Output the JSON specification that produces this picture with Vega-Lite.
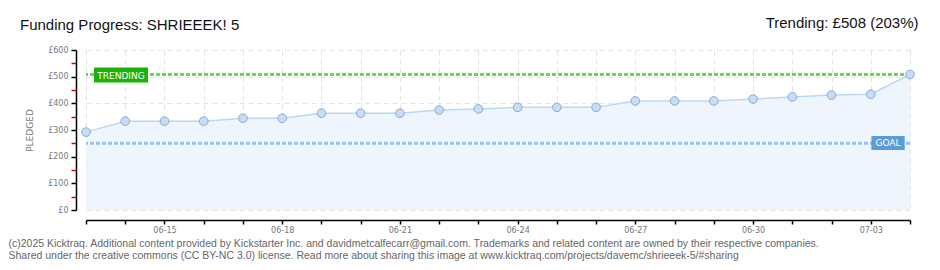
{
  "$schema": "https://vega.github.io/schema/vega-lite/v6.json",
  "width": 824,
  "height": 160,
  "autosize": "none",
  "padding": {"left": 86, "top": 50, "right": 30, "bottom": 60},
  "background": "white",
  "config": {"view": {"stroke": null}, "font": "DejaVu Sans", "axis": {"labelOverlap": false}},
  "title": {
    "text": "Funding Progress: SHRIEEEK! 5",
    "anchor": "start",
    "frame": "group",
    "dx": -66,
    "dy": 47,
    "offset": 18,
    "font": "Liberation Sans",
    "fontSize": 15,
    "fontWeight": "normal",
    "color": "#111",
    "baseline": "alphabetic"
  },
  "datasets": {
    "pledges": [
      {"date": "2025-06-13", "pledged": 292},
      {"date": "2025-06-14", "pledged": 333},
      {"date": "2025-06-15", "pledged": 333},
      {"date": "2025-06-16", "pledged": 333},
      {"date": "2025-06-17", "pledged": 344},
      {"date": "2025-06-18", "pledged": 344},
      {"date": "2025-06-19", "pledged": 363},
      {"date": "2025-06-20", "pledged": 363},
      {"date": "2025-06-21", "pledged": 363},
      {"date": "2025-06-22", "pledged": 375},
      {"date": "2025-06-23", "pledged": 379},
      {"date": "2025-06-24", "pledged": 385},
      {"date": "2025-06-25", "pledged": 385},
      {"date": "2025-06-26", "pledged": 385},
      {"date": "2025-06-27", "pledged": 409},
      {"date": "2025-06-28", "pledged": 409},
      {"date": "2025-06-29", "pledged": 409},
      {"date": "2025-06-30", "pledged": 416},
      {"date": "2025-07-01", "pledged": 424},
      {"date": "2025-07-02", "pledged": 431},
      {"date": "2025-07-03", "pledged": 434},
      {"date": "2025-07-04", "pledged": 508}
    ],
    "one": [{"goal": 250, "trending": 508, "top": 600}]
  },
  "layer": [
    {
      "data": {"name": "pledges"},
      "mark": {"type": "area", "color": "#eef5fd", "opacity": 1},
      "encoding": {
        "x": {
          "field": "date",
          "type": "temporal",
          "scale": {"type": "utc", "domain": [{"year": 2025, "month": 6, "date": 13, "utc": true}, {"year": 2025, "month": 7, "date": 4, "utc": true}]},
          "axis": {
            "tickCount": {"interval": "day", "step": 1},
            "labelExpr": "utcdate(datum.value) % 3 === 0 ? utcFormat(datum.value, '%m-%d') : ''",
            "labelOverlap": false,
            "labelFont": "DejaVu Sans",
            "labelFontSize": 8,
            "labelColor": "#777",
            "labelPadding": 2,
            "offset": 10,
            "domainColor": "#000",
            "domainWidth": 1.5,
            "tickColor": "#000",
            "tickSize": 4,
            "tickWidth": 1.5,
            "grid": true,
            "gridColor": "#e3e3e3",
            "gridDash": [5, 4],
            "title": ["(c)2025 Kicktraq. Additional content provided by Kickstarter Inc. and davidmetcalfecarr@gmail.com. Trademarks and related content are owned by their respective companies.", "Shared under the creative commons (CC BY-NC 3.0) license. Read more about sharing this image at www.kicktraq.com/projects/davemc/shrieeek-5/#sharing"],
            "titleX": -78,
            "titleY": 26,
            "titleAlign": "left",
            "titleBaseline": "alphabetic",
            "titleFont": "Liberation Sans",
            "titleFontSize": 10.5,
            "titleFontWeight": "normal",
            "titleColor": "#666",
            "titleLineHeight": 12.5
          }
        },
        "y": {
          "field": "pledged",
          "type": "quantitative",
          "scale": {"domain": [0, 600], "nice": false, "zero": true},
          "axis": {
            "values": [0, 50, 100, 150, 200, 250, 300, 350, 400, 450, 500, 550, 600],
            "tickCount": 30,
            "labelExpr": "datum.value % 100 === 0 ? '£' + datum.value : ''",
            "labelOverlap": false,
            "labelFont": "DejaVu Sans",
            "labelFontSize": 8,
            "labelColor": "#777",
            "labelPadding": 3,
            "offset": 10,
            "domainColor": "#000",
            "domainWidth": 1.5,
            "tickColor": {"condition": {"test": "datum.value % 100 !== 0", "value": "#e00000"}, "value": "#000"},
            "tickSize": 5,
            "tickWidth": 1.5,
            "grid": true,
            "gridColor": "#e3e3e3",
            "gridDash": [5, 4],
            "gridOpacity": {"condition": {"test": "datum.value % 100 !== 0", "value": 0}, "value": 1},
            "title": "PLEDGED",
            "titleFont": "DejaVu Sans",
            "titleFontSize": 9,
            "titleFontWeight": "normal",
            "titleColor": "#777",
            "titleX": -42,
            "titleY": 80,
            "titleAlign": "center"
          }
        }
      }
    },
    {
      "data": {"name": "pledges"},
      "mark": {"type": "line", "color": "#bcd7f3", "strokeWidth": 1.5},
      "encoding": {
        "x": {"field": "date", "type": "temporal"},
        "y": {"field": "pledged", "type": "quantitative"}
      }
    },
    {
      "data": {"name": "one"},
      "mark": {"type": "rule", "color": "#9cc3ee", "strokeWidth": 3, "strokeDash": [4, 2]},
      "encoding": {"y": {"field": "goal", "type": "quantitative"}}
    },
    {
      "data": {"name": "one"},
      "mark": {"type": "rule", "color": "#6fd35a", "strokeWidth": 3, "strokeDash": [4, 2]},
      "encoding": {"y": {"field": "trending", "type": "quantitative"}}
    },
    {
      "data": {"name": "pledges"},
      "mark": {"type": "point", "filled": true, "fill": "#c6ddf7", "stroke": "#8eaacb", "strokeWidth": 1, "opacity": 1, "size": 75},
      "encoding": {
        "x": {"field": "date", "type": "temporal"},
        "y": {"field": "pledged", "type": "quantitative"}
      }
    },
    {
      "data": {"name": "one"},
      "mark": {"type": "point", "filled": true, "opacity": 1, "color": "#17b30a", "size": 10000, "shape": "M0.16,-0.14H1.24V0.16H0.16Z"},
      "encoding": {
        "x": {"datum": {"year": 2025, "month": 6, "date": 13, "utc": true}, "type": "temporal"},
        "y": {"field": "trending", "type": "quantitative"}
      }
    },
    {
      "data": {"name": "one"},
      "mark": {"type": "text", "text": "TRENDING", "color": "white", "font": "DejaVu Sans", "fontSize": 9, "align": "center", "baseline": "middle", "dx": 35, "dy": 1},
      "encoding": {
        "x": {"datum": {"year": 2025, "month": 6, "date": 13, "utc": true}, "type": "temporal"},
        "y": {"field": "trending", "type": "quantitative"}
      }
    },
    {
      "data": {"name": "one"},
      "mark": {"type": "point", "filled": true, "opacity": 1, "color": "#5b9bd8", "size": 10000, "shape": "M-0.772,-0.146H-0.106V0.134H-0.772Z"},
      "encoding": {
        "x": {"datum": {"year": 2025, "month": 7, "date": 4, "utc": true}, "type": "temporal"},
        "y": {"field": "goal", "type": "quantitative"}
      }
    },
    {
      "data": {"name": "one"},
      "mark": {"type": "text", "text": "GOAL", "color": "white", "font": "DejaVu Sans", "fontSize": 9, "align": "center", "baseline": "middle", "dx": -22, "dy": 0},
      "encoding": {
        "x": {"datum": {"year": 2025, "month": 7, "date": 4, "utc": true}, "type": "temporal"},
        "y": {"field": "goal", "type": "quantitative"}
      }
    },
    {
      "data": {"name": "one"},
      "mark": {"type": "text", "text": "Trending: £508 (203%)", "color": "#111", "font": "Liberation Sans", "fontSize": 15, "align": "right", "baseline": "alphabetic", "dx": 8.5, "dy": -22},
      "encoding": {
        "x": {"datum": {"year": 2025, "month": 7, "date": 4, "utc": true}, "type": "temporal"},
        "y": {"field": "top", "type": "quantitative"}
      }
    }
  ]
}
